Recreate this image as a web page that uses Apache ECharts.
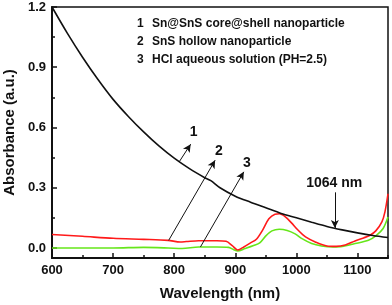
<!DOCTYPE html>
<html><head><meta charset="utf-8">
<script src="https://cdn.jsdelivr.net/npm/echarts@6/dist/echarts.min.js"></script>
<style>html,body{margin:0;padding:0;background:#fff}#c{width:392px;height:305px}</style>
</head><body><div id="c"></div>
<script>
// Series 1: Sn@SnS core@shell nanoparticle
const wl1 = [600,625,650,675,700,725,750,775,800,825,850,860,875,900,925,950,975,1000,1025,1050,1075,1100,1125,1150];
const abs1 = [1.20,1.07,0.95,0.84,0.74,0.655,0.578,0.508,0.447,0.395,0.35,0.335,0.30,0.258,0.228,0.20,0.172,0.15,0.128,0.107,0.09,0.075,0.062,0.052];
// Series 2: SnS hollow nanoparticle
const wl2 = [600,650,700,750,790,810,820,840,870,885,895,904,914,925,935,945,955,965,972,982,992,1003,1015,1031,1050,1065,1080,1096,1110,1120,1130,1140,1145,1150];
const abs2 = [0.067,0.058,0.048,0.043,0.038,0.030,0.032,0.036,0.036,0.033,0.012,-0.01,0.005,0.025,0.045,0.09,0.145,0.168,0.17,0.155,0.125,0.088,0.055,0.030,0.010,0.008,0.015,0.035,0.05,0.062,0.085,0.13,0.18,0.27];
// Series 3: HCl aqueous solution (PH=2.5)
const wl3 = [600,650,700,750,790,813,840,870,889,897,904,916,930,940,950,960,972,985,998,1010,1025,1041,1060,1075,1096,1118,1131,1142,1150];
const abs3 = [0.0,0.0,0.0,0.003,0.0,-0.003,0.005,0.005,0.003,-0.008,-0.015,-0.003,0.012,0.025,0.06,0.085,0.093,0.087,0.07,0.045,0.022,0.01,0.005,0.007,0.022,0.038,0.063,0.097,0.154];

const legendNums = ['1','2','3'];
const legendTexts = ['Sn@SnS core@shell nanoparticle','SnS hollow nanoparticle','HCl aqueous solution (PH=2.5)'];

const xMajor = [600,700,800,900,1000,1100];
const xMinor = [650,750,850,950,1050,1150];
const yMajor = [0,0.3,0.6,0.9,1.2];
const yMinor = [0.15,0.45,0.75,1.05];

// annotation arrows in data coordinates: [from, to]
const arrows = [
  [[808,0.428],[827,0.517]],
  [[791,0.038],[867,0.437]],
  [[843,0.005],[914,0.379]],
  [[1063,0.277],[1063,0.100]]
];
const annoLabels = [
  {text:'1', at:[832,0.575]},
  {text:'2', at:[873,0.48]},
  {text:'3', at:[919,0.42]},
  {text:'1064 nm', at:[1062,0.322]}
];

const pair = (xs, ys) => xs.map((x,i)=>[x,ys[i]]);
const font = 'Arial, "Liberation Sans", sans-serif';
const lbl = {fontFamily:font,fontWeight:'bold',fontSize:13,color:'#111'};

const chart = echarts.init(document.getElementById('c'), null, {renderer:'canvas'});
const xCommon = {type:'value',min:600,max:1150};
const yCommon = {type:'value',min:-0.05,max:1.2};
chart.setOption({
  animation:false,
  grid:{left:52,right:4,top:7,bottom:47,show:true,borderColor:'#111',borderWidth:1.5,backgroundColor:'transparent',outerBoundsMode:'none',containLabel:false},
  xAxis:[
    Object.assign({},xCommon,{
      name:'Wavelength (nm)',nameLocation:'middle',nameGap:28,
      nameTextStyle:{fontFamily:font,fontWeight:'bold',fontSize:15,color:'#111'},
      axisLine:{show:true,onZero:false,lineStyle:{color:'#111',width:2}},
      axisTick:{show:true,inside:true,length:5,lineStyle:{color:'#111',width:1.5},customValues:xMajor},
      axisLabel:Object.assign({margin:6,customValues:xMajor,formatter:v=>String(v)},lbl),
      splitLine:{show:false}
    }),
    Object.assign({},xCommon,{
      position:'bottom',
      axisLine:{show:false,onZero:false},
      axisTick:{show:true,inside:true,length:3,lineStyle:{color:'#111',width:1.5},customValues:xMinor},
      axisLabel:{show:false},splitLine:{show:false}
    })
  ],
  yAxis:[
    Object.assign({},yCommon,{
      name:'Absorbance (a.u.)',nameLocation:'middle',nameGap:34,
      nameTextStyle:{fontFamily:font,fontWeight:'bold',fontSize:15,color:'#111'},
      axisLine:{show:true,onZero:false,lineStyle:{color:'#111',width:2}},
      axisTick:{show:true,inside:true,length:5,lineStyle:{color:'#111',width:1.5},customValues:yMajor},
      axisLabel:Object.assign({margin:6,customValues:yMajor,formatter:v=>v.toFixed(1)},lbl),
      splitLine:{show:false}
    }),
    Object.assign({},yCommon,{
      position:'left',
      axisLine:{show:false,onZero:false},
      axisTick:{show:true,inside:true,length:3,lineStyle:{color:'#111',width:1.5},customValues:yMinor},
      axisLabel:{show:false},splitLine:{show:false}
    })
  ],
  series:[
    {type:'line',data:pair(wl1,abs1),smooth:0.3,symbol:'none',lineStyle:{color:'#111',width:1.6},z:3,
     markLine:{silent:true,symbol:['none','arrow'],symbolSize:[6,8],lineStyle:{color:'#111',width:1,type:'solid'},label:{show:false},
       data:arrows.map(a=>[{coord:a[0]},{coord:a[1]}])},
     markPoint:{silent:true,symbol:'circle',symbolSize:0,
       label:{show:true,position:'inside',fontFamily:font,fontWeight:'bold',fontSize:14,color:'#111',formatter:p=>p.name},
       data:annoLabels.map(l=>({name:l.text,coord:l.at}))}
    },
    {type:'line',data:pair(wl2,abs2),smooth:0.3,symbol:'none',lineStyle:{color:'#ff1a1a',width:1.6},z:2},
    {type:'line',data:pair(wl3,abs3),smooth:0.3,symbol:'none',lineStyle:{color:'#66e61a',width:1.6},z:1}
  ],
  graphic:legendNums.map((n,i)=>({type:'group',left:137,top:18+i*18,children:[
    {type:'text',x:0,y:0,style:{text:n,font:'bold 12px '+font,fill:'#111'}},
    {type:'text',x:15,y:0,style:{text:legendTexts[i],font:'bold 12px '+font,fill:'#111'}}
  ]}))
});
</script></body></html>
